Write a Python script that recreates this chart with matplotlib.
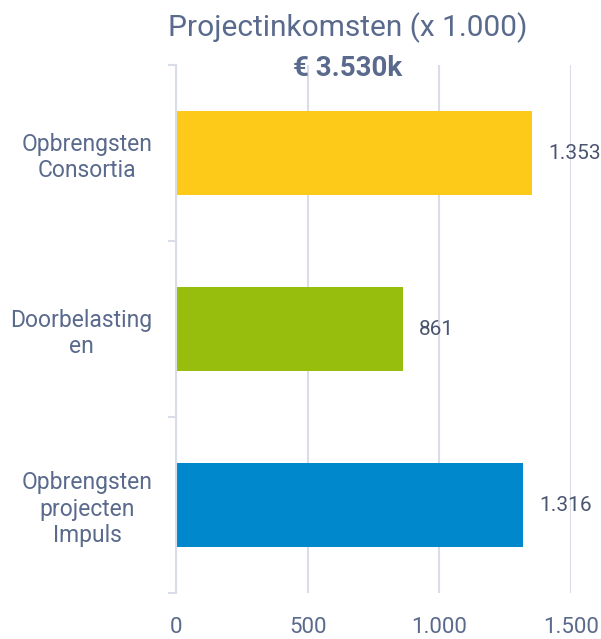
import numpy as np
import matplotlib.pyplot as plt

categories = ["Opbrengsten\nConsortia", "Doorbelasting\nen", "Opbrengsten\nprojecten\nImpuls"]
values = [1353, 861, 1316]
value_labels = ["1.353", "861", "1.316"]
colors = ["#FDCA1A", "#97BE0D", "#0088CC"]
xticks = [0, 500, 1000, 1500]
xtick_labels = ["0", "500", "1.000", "1.500"]

text_col = "#5A6A8C"
grid_col = "#D9DDE8"

plt.rcParams['font.family'] = ['Roboto', 'DejaVu Sans']

fig = plt.figure(figsize=(6.01, 6.39), dpi=100)
ax = fig.add_axes([176/601, 46/639, 395/601, 528/639])

y = np.arange(len(categories))
ax.barh(y, values, height=0.48, color=colors, zorder=2)

for yi, v, lab in zip(y, values, value_labels):
    ax.text(v + 62, yi, lab, va='center', ha='left', fontsize=15, color="#4A5570", zorder=1)

ax.set_ylim(2.5, -0.5)
ax.set_xlim(0, 1500)
ax.set_xticks(xticks)
ax.set_xticklabels(xtick_labels)
ax.set_yticks(y)
ax.set_yticklabels(categories, multialignment='center', linespacing=1.2)
ax.set_yticks([-0.5, 0.5, 1.5, 2.5], minor=True)

ax.tick_params(axis='x', length=0, pad=17, labelsize=16, labelcolor=text_col)
ax.tick_params(axis='y', which='major', length=0, pad=17, labelsize=16.5, labelcolor=text_col)
ax.tick_params(axis='y', which='minor', length=6, width=1.5, color=grid_col)

ax.grid(axis='x', color=grid_col, linewidth=1.5, zorder=0)
ax.set_axisbelow(True)
for s in ['top', 'right', 'bottom']:
    ax.spines[s].set_visible(False)
ax.spines['left'].set_color(grid_col)
ax.spines['left'].set_linewidth(1.5)

fig.text(348/601, 1 - 28/639, "Projectinkomsten (x 1.000)", ha='center', va='center',
         fontsize=21.5, color=text_col)
fig.text(348/601, 1 - 69/639, "€ 3.530k", ha='center', va='center',
         fontsize=20, fontweight='bold', color=text_col)

fig.savefig("out.png", dpi=100, facecolor='white')
